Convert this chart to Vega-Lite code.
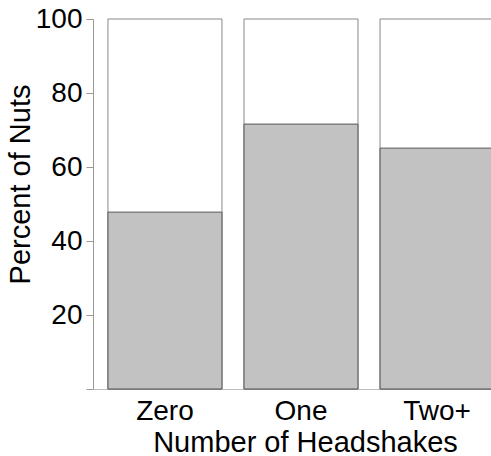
{
  "$schema": "https://vega.github.io/schema/vega-lite/v6.json",
  "autosize": "none",
  "width": 398,
  "height": 370,
  "padding": {"left": 93, "top": 19, "right": 0, "bottom": 67},
  "background": "white",
  "data": {"values": [
    {"headshakes": "Zero", "pct": 47.8, "total": 100},
    {"headshakes": "One", "pct": 71.6, "total": 100},
    {"headshakes": "Two+", "pct": 65.1, "total": 100}
  ]},
  "config": {
    "view": {"stroke": null},
    "font": "Liberation Sans",
    "axis": {
      "labelFont": "Liberation Sans",
      "titleFont": "Liberation Sans",
      "labelFontSize": 28,
      "titleFontSize": 29,
      "titleFontWeight": "normal",
      "labelColor": "black",
      "titleColor": "black",
      "domainColor": "#999999",
      "tickColor": "#999999",
      "grid": false
    }
  },
  "encoding": {
    "x": {
      "field": "headshakes",
      "type": "nominal",
      "sort": ["Zero", "One", "Two+"],
      "scale": {"range": [0, 416], "paddingInner": 0.162, "paddingOuter": 0.11},
      "axis": {
        "title": "Number of Headshakes",
        "labelAngle": 0,
        "ticks": false,
        "labelPadding": 8,
        "titlePadding": 3,
        "titleX": 212,
        "domainColor": "#bbbbbb"
      }
    }
  },
  "layer": [
    {
      "mark": {"type": "bar", "fill": "white", "stroke": "#888888", "strokeWidth": 1},
      "encoding": {
        "y": {
          "field": "total",
          "type": "quantitative",
          "scale": {"domain": [0, 100], "nice": false},
          "axis": {
            "title": "Percent of Nuts",
            "values": [0, 20, 40, 60, 80, 100],
            "labelExpr": "datum.value == 0 ? '' : datum.label",
            "tickSize": 7,
            "labelPadding": 4,
            "titlePadding": 0,
            "titleY": 165
          }
        }
      }
    },
    {
      "mark": {"type": "bar", "fill": "#c2c2c2", "stroke": "#555555", "strokeWidth": 1},
      "encoding": {
        "y": {"field": "pct", "type": "quantitative"}
      }
    }
  ]
}
